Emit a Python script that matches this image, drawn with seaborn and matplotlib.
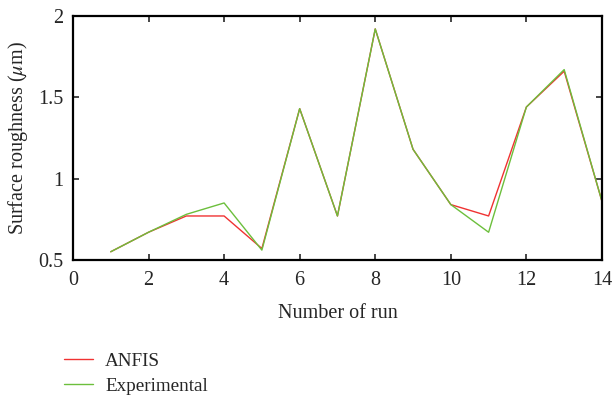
import matplotlib
matplotlib.use("Agg")
import matplotlib.pyplot as plt
from matplotlib.lines import Line2D
import seaborn as sns
import pandas as pd

runs = list(range(1, 15))
anfis = [0.55, 0.67, 0.77, 0.77, 0.57, 1.43, 0.77, 1.92, 1.18, 0.84, 0.77, 1.44, 1.66, 0.86]
experimental = [0.55, 0.67, 0.78, 0.85, 0.56, 1.43, 0.77, 1.92, 1.18, 0.84, 0.67, 1.44, 1.67, 0.86]
series_names = ["ANFIS", "Experimental"]
series_colors = ["#f03232", "#6cbf3c"]
x_ticks = [0, 2, 4, 6, 8, 10, 12, 14]
y_ticks = [0.5, 1, 1.5, 2]
y_tick_labels = ["0.5", "1", "1.5", "2"]

df = pd.DataFrame({
    "run": runs * 2,
    "value": anfis + experimental,
    "series": [series_names[0]] * len(runs) + [series_names[1]] * len(runs),
})

sns.set_style("white")
plt.rcParams["font.family"] = ["Liberation Serif", "DejaVu Serif"]
plt.rcParams["mathtext.fontset"] = "stix"

fs = 14.5
fig = plt.figure(figsize=(6.13, 3.98), dpi=100)
ax = fig.add_axes([0.119, 0.347, 0.863, 0.613])

sns.lineplot(data=df, x="run", y="value", hue="series", hue_order=series_names,
             palette=series_colors, linewidth=1.0, ax=ax, legend=False)

ax.set_xlim(0, 14)
ax.set_ylim(0.5, 2)
ax.set_xticks(x_ticks)
ax.set_xticklabels([str(t) for t in x_ticks])
ax.set_yticks(y_ticks)
ax.set_yticklabels(y_tick_labels)
ax.tick_params(direction="in", length=4, width=1.2, labelsize=fs,
               top=True, right=True, bottom=True, left=True)
ax.tick_params(axis="x", pad=8)
ax.tick_params(axis="y", pad=7)
for s in ax.spines.values():
    s.set_linewidth(1.6)
    s.set_color("black")
ax.set_xlabel("Number of run", fontsize=fs, labelpad=10)
ax.set_ylabel(r"Surface roughness ($\mu$m)", fontsize=fs, labelpad=6)

handles = [Line2D([], [], color=c, lw=1.0) for c in series_colors]
fig.legend(handles, series_names, loc="lower left", bbox_to_anchor=(0.076, -0.035),
           frameon=False, fontsize=13.8, handlelength=1.5, handletextpad=0.65,
           labelspacing=0.4)

fig.savefig("out.png", dpi=100)
